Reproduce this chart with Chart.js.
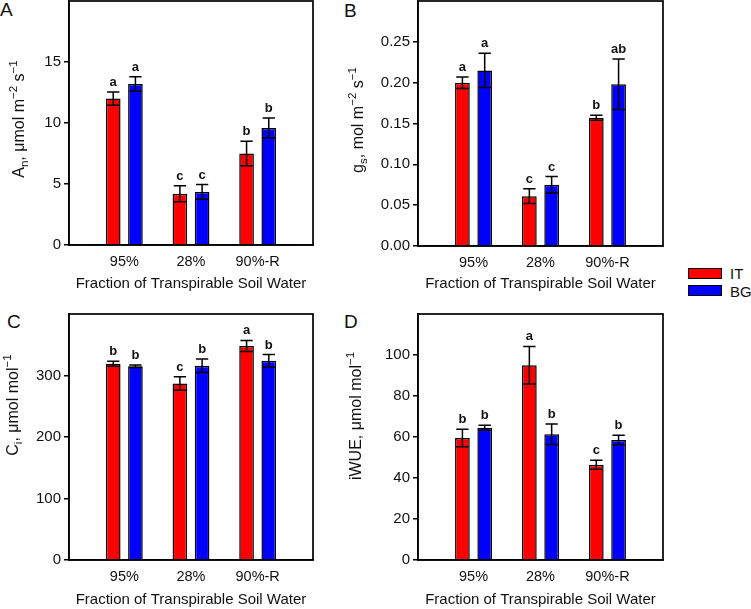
<!DOCTYPE html>
<html>
<head>
<meta charset="utf-8">
<script src="https://cdn.jsdelivr.net/npm/chart.js@4.4.0/dist/chart.umd.min.js"></script>
<style>
    body { margin: 0; background: #fff; width: 751px; height: 609px; position: relative; overflow: hidden;
           font-family: "Liberation Sans", Arial, sans-serif; color: #111; }
    .tag { position: absolute; font-size: 19px; line-height: 1; }
    .panel { position: absolute; }
    .key { position: absolute; left: 688px; width: 32px; height: 9px; border: 1px solid #000; }
    .keytext { position: absolute; left: 730px; font-size: 15px; line-height: 1; }
</style>
</head>
<body>
<div class="tag" style="left:0px;top:0px">A</div>
<div class="tag" style="left:344px;top:1px">B</div>
<div class="tag" style="left:7px;top:312px">C</div>
<div class="tag" style="left:344px;top:312px">D</div>

<canvas class="panel" id="panelA" width="340" height="296" style="left:0px;top:0px"></canvas>
<canvas class="panel" id="panelB" width="340" height="296" style="left:340px;top:0px"></canvas>
<canvas class="panel" id="panelC" width="340" height="309" style="left:0px;top:300px"></canvas>
<canvas class="panel" id="panelD" width="340" height="309" style="left:340px;top:300px"></canvas>

<div class="key" style="top:268px;background:#ff0000"></div>
<div class="keytext" style="top:266px">IT</div>
<div class="key" style="top:285px;background:#0000ff"></div>
<div class="keytext" style="top:284px">BG</div>

<script>
const categories = ["95%", "28%", "90%-R"];
const seriesNames = ["IT", "BG"];
const xTitle = "Fraction of Transpirable Soil Water";

// A: net assimilation
const anIT = [12.0, 4.2, 7.5];
const anITErr = [0.55, 0.65, 1.0];
const anBG = [13.2, 4.35, 9.6];
const anBGErr = [0.6, 0.6, 0.8];
const anITLetters = ["a", "c", "b"];
const anBGLetters = ["a", "c", "b"];
const anTicks = [0, 5, 10, 15];
const anMax = 20;

// B: stomatal conductance
const gsIT = [0.200, 0.061, 0.157];
const gsITErr = [0.007, 0.009, 0.003];
const gsBG = [0.215, 0.075, 0.198];
const gsBGErr = [0.021, 0.010, 0.031];
const gsITLetters = ["a", "c", "b"];
const gsBGLetters = ["a", "c", "ab"];
const gsTicks = [0, 0.05, 0.10, 0.15, 0.20, 0.25];
const gsMax = 0.30;

// C: intercellular CO2
const ciIT = [319, 287, 348];
const ciITErr = [4, 11, 9];
const ciBG = [315, 316, 324];
const ciBGErr = [2, 11, 10];
const ciITLetters = ["b", "c", "a"];
const ciBGLetters = ["b", "b", "b"];
const ciTicks = [0, 100, 200, 300];
const ciMax = 400;

// D: intrinsic water use efficiency
const wueIT = [59.5, 95, 46.5];
const wueITErr = [4.3, 9.2, 2.2];
const wueBG = [64.5, 61.3, 58.5];
const wueBGErr = [1.2, 5, 2.3];
const wueITLetters = ["b", "a", "c"];
const wueBGLetters = ["b", "b", "b"];
const wueTicks = [0, 20, 40, 60, 80, 100];
const wueMax = 120;

const FONT = "'Liberation Sans', Arial, sans-serif";
Chart.defaults.font.family = FONT;
Chart.defaults.color = "#111";

function toPoints(values) {
    return values.map(function (v, i) { return { x: i + 1, y: v }; });
}

// draws text with sub/superscripts, rotated to read bottom-to-top
function drawRotatedRich(ctx, segs, x, y, size) {
    ctx.save();
    ctx.translate(x, y);
    ctx.rotate(-Math.PI / 2);
    ctx.textBaseline = "middle";
    ctx.textAlign = "left";
    ctx.fillStyle = "#111";
    let total = 0;
    segs.forEach(function (s) {
        ctx.font = ((s.sub || s.sup) ? size * 0.72 : size) + "px " + FONT;
        s.w = ctx.measureText(s.t).width;
        total += s.w;
    });
    let cx = -total / 2;
    segs.forEach(function (s) {
        ctx.font = ((s.sub || s.sup) ? size * 0.72 : size) + "px " + FONT;
        const dy = s.sub ? size * 0.32 : (s.sup ? -size * 0.38 : 0);
        ctx.fillText(s.t, cx, dy);
        cx += s.w;
    });
    ctx.restore();
}

function makePanel(id, p) {
    const box = p.box;
    const f = p.frame;

    const errorBars = {
        id: "errorBars",
        afterDatasetsDraw: function (chart) {
            const ctx = chart.ctx;
            const yScale = chart.scales.y;
            ctx.save();
            chart.data.datasets.forEach(function (ds, di) {
                chart.getDatasetMeta(di).data.forEach(function (bar, i) {
                    const v = ds.data[i].y;
                    const e = ds.errors[i];
                    const hi = yScale.getPixelForValue(v + e);
                    const lo = yScale.getPixelForValue(v - e);
                    const half = bar.width * 0.42;
                    ctx.strokeStyle = "#000";
                    ctx.lineWidth = 1.5;
                    ctx.beginPath();
                    ctx.moveTo(bar.x, hi); ctx.lineTo(bar.x, lo);
                    ctx.moveTo(bar.x - half, hi); ctx.lineTo(bar.x + half, hi);
                    ctx.moveTo(bar.x - half, lo); ctx.lineTo(bar.x + half, lo);
                    ctx.stroke();
                    ctx.fillStyle = "#111";
                    ctx.font = "bold 13px " + FONT;
                    ctx.textAlign = "center";
                    ctx.textBaseline = "alphabetic";
                    ctx.fillText(ds.letters[i], bar.x, hi - 6);
                });
            });
            ctx.restore();
        }
    };

    const frameAndTitle = {
        id: "frameAndTitle",
        afterDraw: function (chart) {
            const a = chart.chartArea;
            const ctx = chart.ctx;
            ctx.save();
            ctx.strokeStyle = "#000";
            ctx.lineWidth = 1.7;
            ctx.strokeRect(a.left, a.top, a.right - a.left, a.bottom - a.top);
            ctx.restore();
            drawRotatedRich(ctx, p.yTitle, p.yTitleX - box.left, p.yTitleY - box.top, 16);
        }
    };

    const resetPad = function (s) {
        s.paddingTop = 0; s.paddingBottom = 0; s.paddingLeft = 0; s.paddingRight = 0;
    };

    new Chart(document.getElementById(id), {
        type: "bar",
        data: {
            datasets: [
                {
                    label: seriesNames[0],
                    data: toPoints(p.it),
                    errors: p.itErr,
                    letters: p.itLetters,
                    backgroundColor: "#ff0000",
                    borderColor: "#000",
                    borderWidth: 1.5
                },
                {
                    label: seriesNames[1],
                    data: toPoints(p.bg),
                    errors: p.bgErr,
                    letters: p.bgLetters,
                    backgroundColor: "#0000ff",
                    borderColor: "#000",
                    borderWidth: 1.5
                }
            ]
        },
        options: {
            responsive: false,
            animation: false,
            categoryPercentage: 0.666,
            barPercentage: 0.66,
            layout: {
                padding: { left: 0, top: f.t - box.top, right: box.left + box.width - f.r, bottom: 0 }
            },
            plugins: {
                legend: { display: false },
                tooltip: { enabled: false }
            },
            scales: {
                x: {
                    type: "linear",
                    min: 0.17,
                    max: 3.83,
                    offset: false,
                    afterBuildTicks: function (s) {
                        s.ticks = categories.map(function (c, i) { return { value: i + 1 }; });
                    },
                    afterFit: function (s) {
                        s.height = box.top + box.height - f.b;
                        resetPad(s);
                    },
                    grid: { display: false, drawTicks: false },
                    border: { display: true, color: "#000", width: 1.5 },
                    ticks: {
                        padding: 8,
                        color: "#111",
                        autoSkip: false,
                        maxRotation: 0,
                        font: { size: 14.5 },
                        callback: function (v) { return categories[v - 1]; }
                    },
                    title: {
                        display: true,
                        text: xTitle,
                        color: "#111",
                        font: { size: 15 },
                        padding: { top: 0, bottom: box.top + box.height - p.xTitleY - 9 }
                    }
                },
                y: {
                    min: 0,
                    max: p.max,
                    afterBuildTicks: function (s) {
                        s.ticks = p.ticks.map(function (v) { return { value: v }; });
                    },
                    afterFit: function (s) {
                        s.width = f.l - box.left;
                        resetPad(s);
                    },
                    grid: { drawOnChartArea: false, drawTicks: true, tickLength: 5, color: "#000", lineWidth: 1.5 },
                    border: { display: true, color: "#000", width: 1.5 },
                    ticks: {
                        padding: 3,
                        color: "#111",
                        font: { size: 15 },
                        callback: function (v) { return p.decimals ? v.toFixed(p.decimals) : v; }
                    }
                }
            }
        },
        plugins: [errorBars, frameAndTitle]
    });
}

makePanel("panelA", {
    box: { left: 0, top: 0, width: 340, height: 296 },
    frame: { l: 69, t: 1, r: 313, b: 245 },
    xTitleY: 284,
    it: anIT, itErr: anITErr, itLetters: anITLetters,
    bg: anBG, bgErr: anBGErr, bgLetters: anBGLetters,
    ticks: anTicks, max: anMax, decimals: 0,
    yTitleX: 20, yTitleY: 119,
    yTitle: [{ t: "A" }, { t: "n", sub: true }, { t: ", \u03bcmol m" }, { t: "\u22122", sup: true },
             { t: " s" }, { t: "\u22121", sup: true }]
});

makePanel("panelB", {
    box: { left: 340, top: 0, width: 340, height: 296 },
    frame: { l: 418, t: 1, r: 663, b: 246 },
    xTitleY: 284,
    it: gsIT, itErr: gsITErr, itLetters: gsITLetters,
    bg: gsBG, bgErr: gsBGErr, bgLetters: gsBGLetters,
    ticks: gsTicks, max: gsMax, decimals: 2,
    yTitleX: 359, yTitleY: 120,
    yTitle: [{ t: "g" }, { t: "s", sub: true }, { t: ", mol m" }, { t: "\u22122", sup: true },
             { t: " s" }, { t: "\u22121", sup: true }]
});

makePanel("panelC", {
    box: { left: 0, top: 300, width: 340, height: 309 },
    frame: { l: 69, t: 314, r: 313, b: 560 },
    xTitleY: 600,
    it: ciIT, itErr: ciITErr, itLetters: ciITLetters,
    bg: ciBG, bgErr: ciBGErr, bgLetters: ciBGLetters,
    ticks: ciTicks, max: ciMax, decimals: 0,
    yTitleX: 14, yTitleY: 405,
    yTitle: [{ t: "C" }, { t: "i", sub: true }, { t: ", \u03bcmol mol" }, { t: "\u22121", sup: true }]
});

makePanel("panelD", {
    box: { left: 340, top: 300, width: 340, height: 309 },
    frame: { l: 418, t: 314, r: 663, b: 560 },
    xTitleY: 600,
    it: wueIT, itErr: wueITErr, itLetters: wueITLetters,
    bg: wueBG, bgErr: wueBGErr, bgLetters: wueBGLetters,
    ticks: wueTicks, max: wueMax, decimals: 0,
    yTitleX: 357, yTitleY: 416,
    yTitle: [{ t: "iWUE, \u03bcmol mol" }, { t: "\u22121", sup: true }]
});
</script>
</body>
</html>
